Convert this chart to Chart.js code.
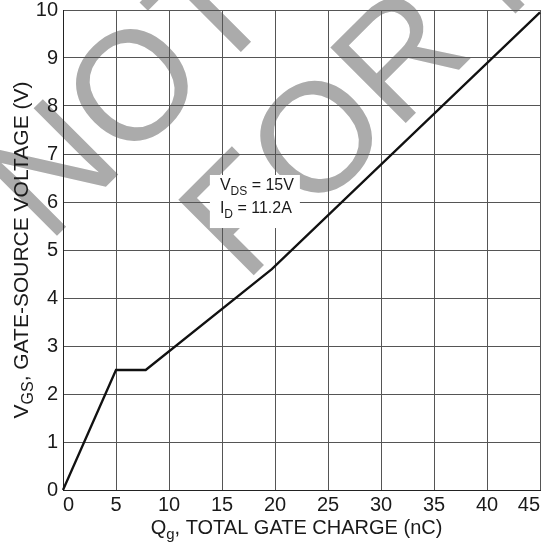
<!DOCTYPE html>
<html>
<head>
<meta charset="utf-8">
<script src="https://cdn.jsdelivr.net/npm/chart.js@4.4.1/dist/chart.umd.min.js"></script>
<style>
  html, body { margin: 0; padding: 0; background: #fff; }
</style>
</head>
<body>
<canvas id="gateChart" width="547" height="543"></canvas>
<script>
/* Gate charge curve: VGS vs Qg, drawn with Chart.js + a few small canvas plugins for the labels. */
const qg  = [0, 5, 7.8, 19.7, 45];     // nC
const vgs = [0, 2.5, 2.5, 4.6, 9.95];  // V
const xTicks = [0, 5, 10, 15, 20, 25, 30, 35, 40, 45];
const yTicks = [0, 1, 2, 3, 4, 5, 6, 7, 8, 9, 10];

// [text, isSubscript]
const xTitle = [["Q", false], ["g", true], [", TOTAL GATE CHARGE (nC)", false]];
const yTitle = [["V", false], ["GS", true], [", GATE-SOURCE VOLTAGE (V)", false]];
const noteLines = [
  [["V", false], ["DS", true], [" = 15V", false]],
  [["I", false], ["D", true], [" = 11.2A", false]]
];
const noteAt = { x: 14.8, y: [6.25, 5.77] };
const watermark = ["NOT", "FOR NEW DESIGN"];

const FONT = '"Liberation Sans", Arial, sans-serif';
const INK = "#1a1a1a";

function richWidth(ctx, parts, size, subSize) {
  let w = 0;
  parts.forEach(([t, sub]) => {
    ctx.font = `${sub ? subSize : size}px ${FONT}`;
    w += ctx.measureText(t).width;
  });
  return w;
}

function drawRich(ctx, parts, x, y, size, subSize, drop) {
  let cx = x;
  parts.forEach(([t, sub]) => {
    ctx.font = `${sub ? subSize : size}px ${FONT}`;
    ctx.fillText(t, cx, y + (sub ? drop : 0));
    cx += ctx.measureText(t).width;
  });
}

const decor = {
  id: "decor",
  beforeDraw(chart) {
    const ctx = chart.ctx;
    ctx.save();
    ctx.fillStyle = "#fff";
    ctx.fillRect(0, 0, chart.width, chart.height);
    // grey diagonal watermark, sits under the grid
    ctx.fillStyle = "#ababab";
    ctx.font = `155px ${FONT}`;
    ctx.textBaseline = "alphabetic";
    ctx.rotate(-Math.PI / 4);
    ctx.fillText(watermark[0], -139, 207);
    ctx.fillText(watermark[1], -28, 374);
    ctx.restore();
  },
  beforeDatasetsDraw(chart) {
    const ctx = chart.ctx;
    const { x, y } = chart.scales;
    const px = x.getPixelForValue(noteAt.x);
    const y0 = y.getPixelForValue(noteAt.y[0]);
    const y1 = y.getPixelForValue(noteAt.y[1]);
    ctx.save();
    ctx.fillStyle = "#fff";
    ctx.fillRect(px - 10, y0 - 15, 90, y1 - y0 + 30);
    ctx.fillStyle = INK;
    ctx.textBaseline = "alphabetic";
    drawRich(ctx, noteLines[0], px, y0, 16, 12, 5);
    drawRich(ctx, noteLines[1], px, y1, 16, 12, 5);
    ctx.restore();
  },
  afterDraw(chart) {
    const ctx = chart.ctx;
    const a = chart.chartArea;
    ctx.save();
    ctx.fillStyle = INK;
    ctx.textBaseline = "alphabetic";
    // x title
    const wx = richWidth(ctx, xTitle, 20, 15);
    const cx = (a.left + a.right) / 2 - 5;
    drawRich(ctx, xTitle, cx - wx / 2, 534, 20, 15, 5);
    // y title, rotated
    const wy = richWidth(ctx, yTitle, 21, 16);
    ctx.translate(28, (a.top + a.bottom) / 2);
    ctx.rotate(-Math.PI / 2);
    drawRich(ctx, yTitle, -wy / 2, 0, 21, 16, 5);
    ctx.restore();
  }
};

new Chart(document.getElementById("gateChart"), {
  type: "scatter",
  data: {
    datasets: [{
      data: qg.map((q, i) => ({ x: q, y: vgs[i] })),
      showLine: true,
      borderColor: "#111",
      borderWidth: 2.3,
      pointRadius: 0,
      tension: 0,
      clip: false
    }]
  },
  options: {
    responsive: false,
    animation: false,
    events: [],
    layout: { padding: { top: 10, right: 7, left: 0, bottom: 0 } },
    plugins: { legend: { display: false }, tooltip: { enabled: false } },
    scales: {
      x: {
        type: "linear", min: 0, max: 45,
        afterBuildTicks: s => { s.ticks = xTicks.map(v => ({ value: v })); },
        afterFit: s => { s.height = 53; s.paddingLeft = 0; s.paddingRight = 0; },
        grid: { color: "#555", lineWidth: 1, drawTicks: false },
        border: { color: "#222", width: 1 },
        ticks: { align: "inner", padding: 3, color: INK, font: { size: 20, family: FONT } }
      },
      y: {
        type: "linear", min: 0, max: 10,
        afterBuildTicks: s => { s.ticks = yTicks.map(v => ({ value: v })); },
        afterFit: s => { s.width = 63; s.paddingTop = 0; s.paddingBottom = 0; },
        grid: { color: "#555", lineWidth: 1, drawTicks: false },
        border: { color: "#222", width: 1 },
        ticks: { padding: 5, color: INK, font: { size: 20, family: FONT } }
      }
    }
  },
  plugins: [decor]
});
</script>
</body>
</html>
